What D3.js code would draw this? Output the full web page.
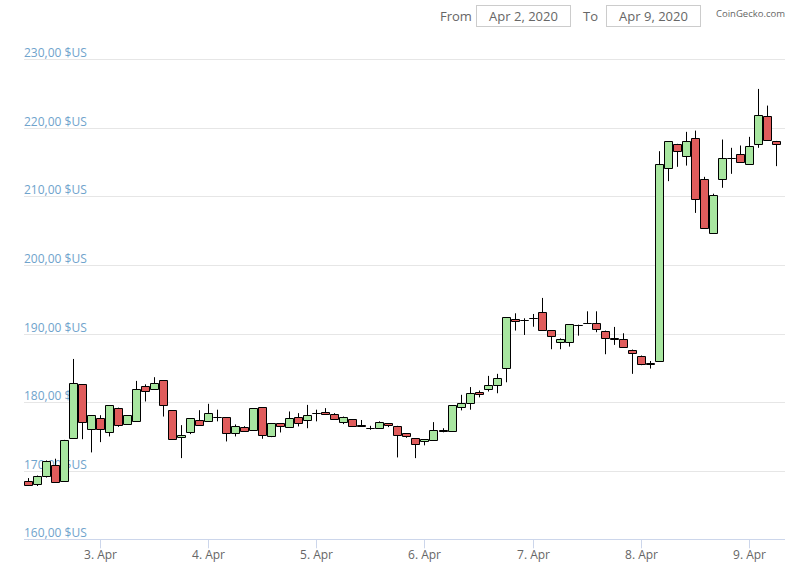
<!DOCTYPE html>
<html>
<head>
<meta charset="utf-8">
<script src="https://cdn.jsdelivr.net/npm/d3@7"></script>
<style>
  html, body { margin: 0; padding: 0; background: #fff; }
  svg { display: block; font-family: "Open Sans", "Noto Sans", sans-serif; }
</style>
</head>
<body>
<svg id="chart" width="800" height="572"></svg>
<script>
// ---- data (2-hour candles, starting 2 Apr 2020 08:00) ----
const startTime = Date.UTC(2020, 3, 2, 8, 0);
const stepHours = 2;
const opens  = [168.45,168.06,169.22,170.87,168.5,174.76,182.62,176.07,177.62,175.63,179.13,176.8,177.23,182.33,181.89,183.2,178.79,174.9,175.63,177.38,177.23,177.8,177.8,175.5,176.36,175.97,179.27,175.0,176.94,176.36,177.82,177.33,178.4,178.54,178.3,177.09,177.52,176.65,176.3,176.2,176.94,176.55,175.48,174.76,174.27,174.42,175.87,175.73,179.27,179.85,181.46,181.94,182.43,184.95,192.09,191.99,192.28,193.1,190.49,188.74,188.74,191.26,191.5,191.5,190.44,189.42,189.27,187.67,186.8,185.68,186.02,214.17,217.67,215.97,218.54,212.48,204.7,212.48,215.63,216.21,214.66,217.72,221.8,218.1];
const highs  = [168.93,169.3,171.5,171.75,174.5,186.3,182.62,178.06,178.1,179.56,179.2,178.1,183.1,182.6,183.64,183.2,178.79,176.65,177.62,178.83,179.76,178.9,177.8,176.75,176.5,179.13,179.27,176.94,176.94,178.64,178.4,179.6,178.9,179.13,178.4,177.9,177.52,177.4,176.55,177.2,176.94,176.55,175.48,174.76,174.6,177.09,176.2,179.56,181.07,182.2,181.7,183.83,184.13,192.38,192.96,192.23,192.86,195.2,190.5,189.3,191.36,191.3,193.25,193.25,190.44,190.97,190.05,187.67,186.8,186.0,216.6,218.06,217.67,219.42,219.6,212.86,210.4,218.3,217.09,217.43,218.69,225.68,223.25,218.1];
const lows   = [167.9,167.77,169.0,168.35,168.5,174.76,174.6,172.67,174.17,175.0,176.4,176.7,177.23,180.1,181.89,177.9,174.6,171.84,175.34,176.55,177.23,177.2,174.27,175.0,175.7,175.97,174.66,174.9,175.58,176.36,176.46,176.2,177.2,178.16,177.5,176.8,176.5,176.5,175.97,176.2,176.36,171.94,174.8,171.84,173.7,174.42,175.6,175.73,178.8,178.9,180.7,181.55,181.3,182.9,190.44,189.8,191.0,190.53,187.72,187.72,188.1,189.7,191.5,190.2,186.99,188.35,188.06,184.13,185.39,184.9,186.0,212.23,214.32,214.5,207.6,205.34,204.7,211.26,213.3,215.05,214.66,217.09,218.3,214.42];
const closes = [167.9,169.22,171.4,168.35,174.47,182.77,177.09,178.06,176.07,179.56,176.6,178.06,181.89,181.6,182.77,179.56,174.6,175.2,177.62,176.65,178.4,177.77,175.5,176.46,175.8,179.13,175.2,176.94,176.55,177.67,176.94,178.16,178.4,178.25,177.52,177.9,176.55,176.5,176.26,177.09,176.65,175.24,175.0,173.88,174.6,175.87,175.8,179.56,179.85,181.4,181.17,182.43,183.5,192.38,191.84,191.94,192.33,190.53,189.66,189.17,191.36,191.26,191.5,190.68,189.37,189.17,188.06,187.18,185.63,185.63,214.76,218.06,216.7,218.06,209.56,205.34,210.24,215.63,215.63,215.05,217.38,221.94,218.3,217.72];
const yTicks = [160, 170, 180, 190, 200, 210, 220, 230];
const xTickDays = [3, 4, 5, 6, 7, 8, 9];
const fromLabel = "Apr 2, 2020";
const toLabel = "Apr 9, 2020";

(function () {
const candles = opens.map((o, i) => ({
  t: new Date(startTime + i * stepHours * 3600e3),
  o, h: highs[i], l: lows[i], c: closes[i]
}));

// ---- layout ----
const svg = d3.select("#chart");
const pLeft = 24, pRight = 785, pTop = 59.3, pBottom = 539.3;

const x = d3.scaleUtc()
  .domain([new Date(Date.UTC(2020, 3, 2, 7, 8)), new Date(Date.UTC(2020, 3, 9, 8, 0))])
  .range([pLeft, pRight]);
const y = d3.scaleLinear().domain([160, 230]).range([pBottom, pTop]);

// gridlines + y labels
const yg = svg.append("g");
yTicks.forEach(v => {
  const yy = Math.round(y(v)) + 0.5;
  yg.append("line")
    .attr("x1", pLeft).attr("x2", pRight)
    .attr("y1", yy).attr("y2", yy)
    .attr("stroke", v === 160 ? "#ccd6eb" : "#e6e6e6")
    .attr("stroke-width", 1);
  yg.append("text")
    .attr("x", pLeft).attr("y", yy - 3)
    .attr("font-size", 12)
    .attr("fill", "#6fa3cc")
    .text(d3.format(".2f")(v).replace(".", ",") + " $US");
});

// x axis ticks
const xTickDates = xTickDays.map(d => new Date(Date.UTC(2020, 3, d)));
const xa = svg.append("g");
xTickDates.forEach((d, i) => {
  const xx = Math.round(x(d)) + 0.5;
  xa.append("line")
    .attr("x1", xx).attr("x2", xx)
    .attr("y1", pBottom).attr("y2", pBottom + 9)
    .attr("stroke", "#ccd6eb");
  xa.append("text")
    .attr("x", xx).attr("y", 559)
    .attr("text-anchor", "middle")
    .attr("font-size", 12)
    .attr("fill", "#666")
    .text(xTickDays[i] + ". Apr");
});

// candles
const cg = svg.append("g");
const bw = 8;
candles.forEach(d => {
  const cx = Math.round(x(d.t));
  const up = d.c >= d.o;
  cg.append("line")
    .attr("x1", cx + 0.5).attr("x2", cx + 0.5)
    .attr("y1", y(d.h)).attr("y2", y(d.l))
    .attr("stroke", "#000").attr("stroke-width", 1);
  const yTop = Math.round(y(Math.max(d.o, d.c))) + 0.5;
  const yBot = Math.round(y(Math.min(d.o, d.c))) + 0.5;
  const x0 = cx - 3.5, x1 = x0 + bw;
  cg.append("path")
    .attr("d", `M${x0},${yTop}H${x1}V${yBot}H${x0}Z`)
    .attr("fill", up ? "#a8e6a0" : "#e05c5c")
    .attr("stroke", "#000").attr("stroke-width", 1);
});

// top controls
const tg = svg.append("g").attr("font-size", 13).attr("fill", "#666");
tg.append("text").attr("x", 440).attr("y", 21).text("From");
tg.append("rect").attr("x", 476.5).attr("y", 5.5).attr("width", 94).attr("height", 21)
  .attr("fill", "#fff").attr("stroke", "#ccc");
tg.append("text").attr("x", 523.5).attr("y", 21).attr("text-anchor", "middle").text(fromLabel);
tg.append("text").attr("x", 583).attr("y", 21).text("To");
tg.append("rect").attr("x", 606.5).attr("y", 5.5).attr("width", 94).attr("height", 21)
  .attr("fill", "#fff").attr("stroke", "#ccc");
tg.append("text").attr("x", 653.5).attr("y", 21).attr("text-anchor", "middle").text(toLabel);
svg.append("text").attr("x", 716).attr("y", 17).attr("font-size", 9.5).attr("fill", "#666")
  .text("CoinGecko.com");
})();
</script>
</body>
</html>
